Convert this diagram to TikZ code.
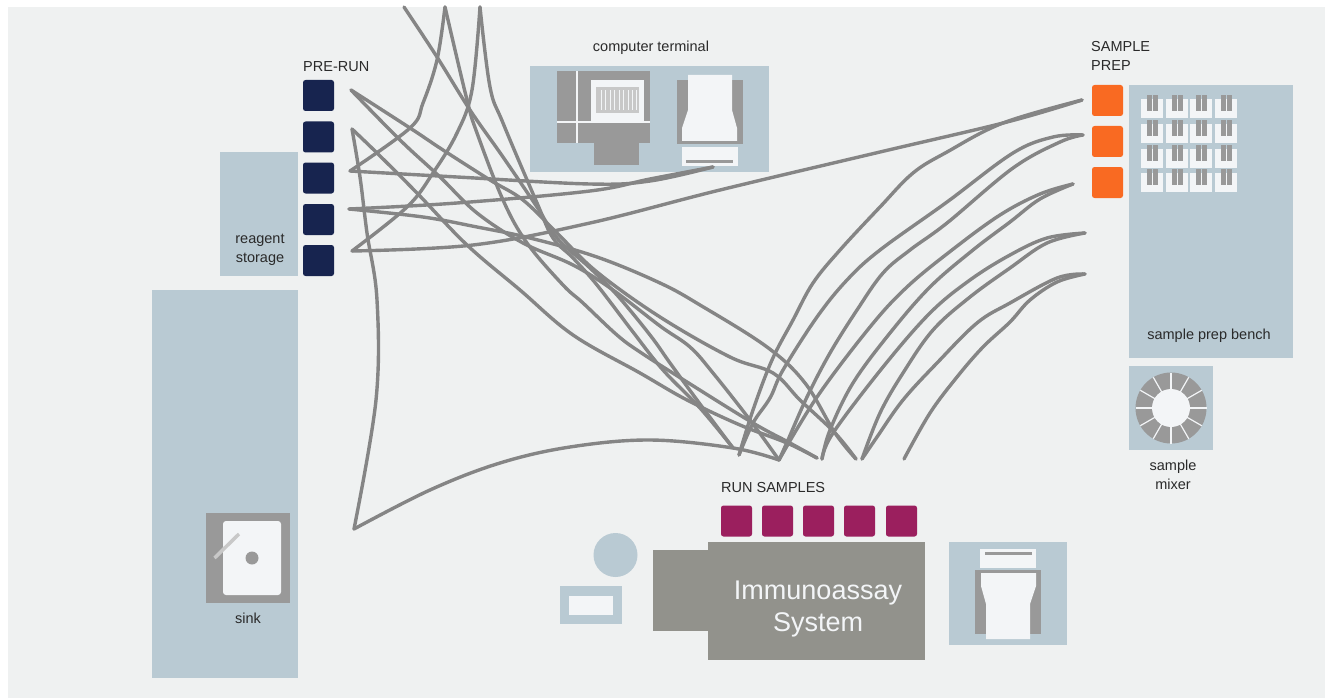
\documentclass[tikz,border=0pt]{standalone}
\usepackage{fontspec}
\setmainfont{Liberation Sans}
\definecolor{bgc}{HTML}{EFF1F1}
\definecolor{bluec}{HTML}{B9CAD3}
\definecolor{devc}{HTML}{999999}
\definecolor{lightc}{HTML}{C8C8C8}
\definecolor{whitec}{HTML}{F3F5F7}
\definecolor{mainc}{HTML}{92928C}
\definecolor{navyc}{HTML}{17244F}
\definecolor{purplec}{HTML}{9B1F5E}
\definecolor{orangec}{HTML}{F96A22}
\definecolor{textc}{HTML}{2A2A2A}
\definecolor{wirec}{HTML}{858585}
\tikzset{
  sq/.style={rounded corners=2.5pt,minimum width=31pt,minimum height=31pt,inner sep=0pt,outer sep=0pt},
  lab/.style={text=textc,inner sep=0pt,align=center,font=\fontsize{14.5}{19}\selectfont},
  wire/.style={draw=wirec,line width=3.4pt,line cap=round,line join=round},
  sm/.style={smooth,tension=0.6}
}
\begin{document}
\begin{tikzpicture}[x=1pt,y=-1pt]
\useasboundingbox (0,0) rectangle (1325,698);
\fill[bgc] (8,7) rectangle (1325,698);
% blue areas
\fill[bluec] (220,152) rectangle (298,276);
\fill[bluec] (152,290) rectangle (298,678);
\fill[bluec] (530,66) rectangle (769,172);
\fill[bluec] (1129,85) rectangle (1293,358);
\fill[bluec] (1129,366) rectangle (1213,450);
\fill[bluec] (949,542) rectangle (1067,645);
\fill[bluec] (615.5,555) circle (22);
\fill[bluec] (560,586) rectangle (622,624);
\fill[whitec] (569,596) rectangle (613,615);
% sink
\fill[devc] (206,513) rectangle (290,603);
\fill[whitec,rounded corners=3pt] (223,521) rectangle (281,595);
\fill[devc] (252,558) circle (6.5);
\draw[lightc,line width=3.5pt] (214.5,558) -- (239,534);
% computer
\fill[devc] (557,71) rectangle (650,143);
\fill[devc] (594,143) rectangle (639,165);
\fill[whitec] (591,80) rectangle (644,122);
\fill[lightc] (596,87) rectangle (639,113);
\foreach \x in {601,605.5,610,614.5,619,623.5,628,632.5,636}{\draw[whitec,line width=0.9pt] (\x,90) -- (\x,110);}
\draw[whitec,line width=1.6pt] (577,71) -- (577,143);
\draw[whitec,line width=1.6pt] (557,122) -- (650,122);
% printer top
\fill[devc] (677,80) rectangle (743,144);
\fill[whitec] (688,75) -- (732,75) -- (732,110) -- (737,128) -- (737,141) -- (682,141) -- (682,128) -- (688,110) -- cycle;
\fill[whitec] (682,147) rectangle (738,166);
\fill[devc] (686,160) rectangle (733,163);
% printer bottom
\fill[devc] (975,570) rectangle (1041,634);
\fill[whitec] (980,549) rectangle (1036,568);
\fill[devc] (985,552) rectangle (1032,555);
\fill[whitec] (981,573) -- (1036,573) -- (1036,586) -- (1030,604) -- (1030,639) -- (986,639) -- (986,604) -- (981,586) -- cycle;
% bench tiles
\foreach \x in {1141,1166,1190,1215}{\foreach \y in {99,124,149,173}{
  \fill[whitec] (\x,\y) rectangle (\x+22,\y+19);
  \fill[devc] (\x+6,\y-4) rectangle (\x+10.5,\y+12);
  \fill[devc] (\x+12,\y-4) rectangle (\x+16.5,\y+12);
}}
% mixer
\fill[devc] (1171,408) circle (35.5);
\foreach \a in {0,30,...,330}{\draw[whitec,line width=1.2pt] (1171,408) -- ++(\a:35.5);}
\fill[whitec] (1171,408) circle (19);
% analyser
\fill[mainc] (653,550) rectangle (708,631);
\fill[mainc] (708,542) rectangle (925,660);
% squares
\foreach \n/\y in {1/95.5,2/137,3/178,4/219.5,5/260.5}{\node[sq,fill=navyc] (pr\n) at (318.5,\y) {};}
\foreach \n/\y in {1/100.5,2/141.5,3/182.5}{\node[sq,fill=orangec] (sp\n) at (1107.5,\y) {};}
\foreach \n/\x in {1/736.5,2/777.5,3/818.5,4/859.5,5/901.5}{\node[sq,fill=purplec] (rs\n) at (\x,521) {};}
% labels
\node[lab,anchor=west] (lpre) at (303,67) {PRE-RUN};
\node[lab] (lterm) at (651,48) {computer terminal};
\node[lab,align=left,anchor=north west] (lprep) at (1091,41) {SAMPLE\\PREP};
\node[lab] (lreag) at (260,249.5) {reagent\\storage};
\node[lab] (lbench) at (1209,336) {sample prep bench};
\node[lab] (lmix) at (1173,474.5) {sample\\mixer};
\node[lab,anchor=west] (lrun) at (721,488) {RUN SAMPLES};
\node[lab] (lsink) at (248,618) {sink};
\node[text=whitec,inner sep=0pt,align=center,font=\fontsize{27}{32}\selectfont] (limm) at (818,609) {Immunoassay\\System};
% connector ends
\coordinate (P1) at (351,90);
\coordinate (P2) at (352,129);
\coordinate (P3) at (350,171);
\coordinate (P4) at (349,209);
\coordinate (P5) at (352,251);
\coordinate (A1) at (404,7);
\coordinate (A2) at (445,7);
\coordinate (A3) at (480,7);
\coordinate (D) at (354,529);
\coordinate (CT) at (713,167);
\coordinate (S1) at (1082,100);
\coordinate (S2) at (1083,135);
\coordinate (S3) at (1073,184);
\coordinate (S4) at (1085,233);
\coordinate (S5) at (1085,274);
\coordinate (T1) at (733,448);
\coordinate (T2) at (739,455);
\coordinate (T3) at (779,460);
\coordinate (T4) at (817,458);
\coordinate (T5) at (822,459);
\coordinate (T6) at (856,459);
\coordinate (T7) at (862,459);
\coordinate (T8) at (904,459);
% left wires
\draw[wire] plot[sm] coordinates {(P3) (410,128) (423,103) (437,60) (A2)};
\draw[wire] plot[sm] coordinates {(P5) (407,207) (433,173) (457,133) (472,90) (A3)};
\draw[wire] plot[sm] coordinates {(P3) (457,177) (590,184) (650,181) (CT)};
\draw[wire] plot[sm] coordinates {(P4) (457,203) (590,191) (650,179) (CT)};
\draw[wire] plot[sm] coordinates {(P5) (473,245) (590,223) (720,190) (880,152) (1007,122) (S1)};
\draw[wire] plot[sm] coordinates {(A1) (437,57) (470,110) (503,157) (537,207) (557,238) (590,268) (617,295) (650,335) (670,363) (697,400) (T1)};
\draw[wire] plot[sm] coordinates {(A3) (490,87) (503,123) (537,203) (553,238) (573,258) (597,285) (633,332) (663,370) (700,408) (T1)};
\draw[wire] plot[sm] coordinates {(A2) (467,100) (477,133) (503,200) (527,243) (563,285) (583,303) (617,335) (640,352) (687,382) (753,423) (790,443) (T4)};
\draw[wire] plot[sm] coordinates {(P2) (377,153) (417,193) (467,245) (520,290) (573,335) (640,373) (687,400) (740,425) (787,443) (T4)};
\draw[wire] plot[sm] coordinates {(P1) (400,140) (440,177) (477,213) (523,243) (573,265) (613,290) (660,326) (690,347) (713,373) (750,420) (T3)};
\draw[wire] plot[sm] coordinates {(P1) (410,128) (443,150) (490,180) (523,200) (557,233) (597,272) (660,317) (730,330+27) (773,373) (800,400) (835,433) (T6)};
\draw[wire] plot[sm] coordinates {(P4) (423,217) (477,227) (530,238) (597,257) (660,283) (700,305) (767,347) (805,383) (835,433) (T6)};
\draw[wire] plot[sm] coordinates {(P2) (360,177) (367,233) (377,300) (376,400) (D)};
\draw[wire] plot[sm] coordinates {(D) (430,490) (500,463) (570,447) (650,440) (733,448) (T3)};
% right wires
\draw[wire] plot[sm] coordinates {(T2) (753,410) (772,360) (793,320) (813,283) (840,250) (880,207) (913,173) (947,152) (1003,123) (S1)};
\draw[wire] plot[sm] coordinates {(T2) (753,423) (770,398) (783,370) (817,317) (847,280) (880,250) (947,202) (1013,153) (1053,137) (S2)};
\draw[wire] plot[sm] coordinates {(T3) (788,440) (807,397) (830,353) (857,310) (883,273) (910,250) (947,223) (1013,168) (1060,142) (S2)};
\draw[wire] plot[sm] coordinates {(T3) (817,397) (870,327) (907,287) (952,250) (1000,215) (1040,194) (S3)};
\draw[wire] plot[sm] coordinates {(T5) (830,430) (853,383) (890,333) (930,287) (973,250) (1010,222) (1040,199) (S3)};
\draw[wire] plot[sm] coordinates {(T5) (833,433) (883,367) (930,313) (970,280) (1010,255) (1047,238) (S4)};
\draw[wire] plot[sm] coordinates {(T7) (880,413) (903,373) (933,330) (970,297) (1010,268) (1047,243) (S4)};
\draw[wire] plot[sm] coordinates {(T7) (877,437) (903,400) (937,363) (977,323) (1010,303) (1057,278) (S5)};
\draw[wire] plot[sm] coordinates {(T8) (930,413) (957,377) (983,347) (1010,322) (1030,300) (1057,282) (S5)};
\end{tikzpicture}
\end{document}
